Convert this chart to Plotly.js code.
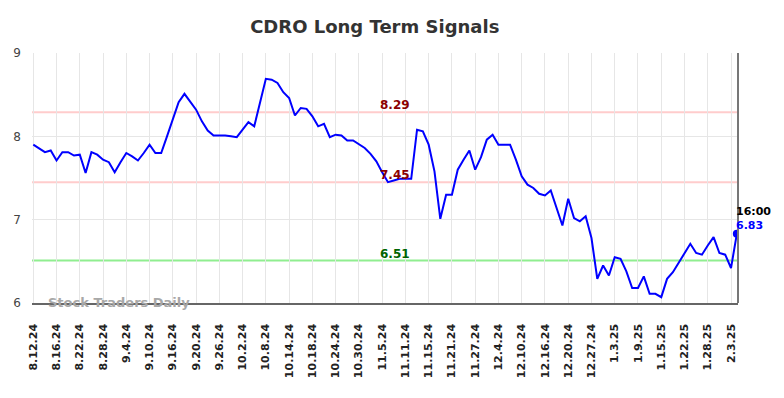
<!DOCTYPE html>
<html>
<head>
<meta charset="utf-8">
<script src="https://cdn.plot.ly/plotly-3.0.1.min.js"></script>
<style>html,body{margin:0;padding:0;background:#fff;}#chart{width:784px;height:398px;}</style>
</head>
<body>
<div id="chart"></div>
<script>
const dates = [
"8.12.24","8.13.24","8.14.24","8.15.24","8.16.24",
"8.19.24","8.20.24","8.21.24","8.22.24","8.23.24",
"8.26.24","8.27.24","8.28.24","8.29.24","8.30.24",
"9.3.24","9.4.24","9.5.24","9.6.24",
"9.9.24","9.10.24","9.11.24","9.12.24","9.13.24",
"9.16.24","9.17.24","9.18.24","9.19.24","9.20.24",
"9.23.24","9.24.24","9.25.24","9.26.24","9.27.24",
"9.30.24","10.1.24","10.2.24","10.3.24","10.4.24",
"10.7.24","10.8.24","10.9.24","10.10.24","10.11.24",
"10.14.24","10.15.24","10.16.24","10.17.24","10.18.24",
"10.21.24","10.22.24","10.23.24","10.24.24","10.25.24",
"10.28.24","10.29.24","10.30.24","10.31.24","11.1.24",
"11.4.24","11.5.24","11.6.24","11.7.24","11.8.24",
"11.11.24","11.12.24","11.13.24","11.14.24","11.15.24",
"11.18.24","11.19.24","11.20.24","11.21.24","11.22.24",
"11.25.24","11.26.24","11.27.24","11.29.24",
"12.2.24","12.3.24","12.4.24","12.5.24","12.6.24",
"12.9.24","12.10.24","12.11.24","12.12.24","12.13.24",
"12.16.24","12.17.24","12.18.24","12.19.24","12.20.24",
"12.23.24","12.24.24","12.26.24","12.27.24",
"12.30.24","12.31.24","1.2.25","1.3.25",
"1.6.25","1.7.25","1.8.25","1.9.25","1.10.25",
"1.13.25","1.14.25","1.15.25","1.16.25","1.17.25",
"1.21.25","1.22.25","1.23.25","1.24.25",
"1.27.25","1.28.25","1.29.25","1.30.25","1.31.25",
"2.3.25","2.4.25"
];
const prices = [
7.90,7.85,7.81,7.83,7.71,
7.81,7.81,7.77,7.78,7.56,
7.81,7.78,7.72,7.69,7.57,
7.69,7.80,7.76,7.71,
7.80,7.90,7.80,7.80,8.00,
8.20,8.41,8.51,8.42,8.32,
8.18,8.07,8.01,8.01,8.01,
8.00,7.99,8.08,8.17,8.12,
8.42,8.69,8.68,8.64,8.53,
8.46,8.25,8.34,8.33,8.24,
8.12,8.15,7.99,8.02,8.01,
7.95,7.95,7.91,7.86,7.79,
7.70,7.57,7.45,7.47,7.49,
7.49,7.49,8.08,8.06,7.90,
7.58,7.01,7.30,7.30,7.60,
7.72,7.83,7.60,7.75,
7.96,8.02,7.90,7.90,7.90,
7.72,7.52,7.42,7.38,7.31,
7.29,7.35,7.15,6.93,7.25,
7.02,6.98,7.04,6.78,
6.29,6.45,6.33,6.55,
6.53,6.38,6.18,6.18,6.32,
6.11,6.11,6.07,6.29,6.37,
6.48,6.59,6.71,6.60,
6.58,6.69,6.79,6.60,6.58,
6.42,6.83
];
const tickLabels = ["8.12.24","8.16.24","8.22.24","8.28.24","9.4.24","9.10.24","9.16.24","9.20.24","9.26.24","10.2.24","10.8.24","10.14.24","10.18.24","10.24.24","10.30.24","11.5.24","11.11.24","11.15.24","11.21.24","11.27.24","12.4.24","12.10.24","12.16.24","12.20.24","12.27.24","1.3.25","1.9.25","1.15.25","1.22.25","1.28.25","2.3.25"];
const upperLevel = 8.29;
const middleLevel = 7.45;
const lowerLevel = 6.51;
const lastTime = "16:00";

const lastDate = dates[dates.length - 1];
const lastPrice = prices[prices.length - 1];
const FONT = "DejaVu Sans";

const traces = [
  {x: dates, y: prices, type: 'scatter', mode: 'lines',
   line: {color: '#0000ff', width: 2}, hoverinfo: 'x+y'},
  {x: [lastDate], y: [lastPrice], type: 'scatter', mode: 'markers',
   marker: {color: '#0000ff', size: 8}, hoverinfo: 'x+y'}
];

function hline(v, color) {
  return {type: 'line', xref: 'paper', x0: 0, x1: 1, yref: 'y', y0: v, y1: v,
          line: {color: color, width: 2}, layer: 'below'};
}

const layout = {
  width: 784, height: 398,
  margin: {l: 32, r: 46, t: 53, b: 95},
  paper_bgcolor: '#ffffff', plot_bgcolor: '#ffffff',
  showlegend: false,
  font: {family: FONT, color: '#333333'},
  title: {text: 'CDRO Long Term Signals', font: {family: FONT, size: 18, color: '#333333', weight: 'bold'},
          x: 0.478, xref: 'container', xanchor: 'center', y: 0.932, yref: 'container', yanchor: 'middle'},
  xaxis: {type: 'category', range: [-0.22, 121.2], tickmode: 'array', tickvals: tickLabels, ticktext: tickLabels,
          tickangle: -90, tickfont: {family: FONT, size: 11, color: '#222222', weight: 'bold'},
          showgrid: true, gridcolor: '#e6e6e6', gridwidth: 1,
          showline: true, linecolor: '#666666', linewidth: 1.5,
          ticks: 'outside', ticklen: 0, ticklabelstandoff: 15, zeroline: false, fixedrange: true},
  yaxis: {range: [6, 9], tickvals: [6, 7, 8, 9], ticktext: ['6', '7', '8', '9'],
          tickfont: {family: FONT, size: 12, color: '#444444'},
          showgrid: true, gridcolor: '#e6e6e6', gridwidth: 1,
          showline: false, zeroline: false, ticks: '', ticklabelstandoff: 10, fixedrange: true},
  shapes: [
    hline(upperLevel, '#ffcccc'),
    hline(middleLevel, '#ffcccc'),
    hline(lowerLevel, '#90ee90'),
    {type: 'line', xref: 'paper', x0: 1, x1: 1, yref: 'paper', y0: 0, y1: 1,
     line: {color: '#777777', width: 2}}
  ],
  annotations: [
    {xref: 'paper', x: 0.514, yref: 'y', y: upperLevel, yanchor: 'bottom', xanchor: 'center', yshift: -2,
     text: upperLevel.toFixed(2), showarrow: false, font: {family: FONT, size: 12, color: '#8b0000', weight: 'bold'}},
    {xref: 'paper', x: 0.514, yref: 'y', y: middleLevel, yanchor: 'bottom', xanchor: 'center', yshift: -2,
     text: middleLevel.toFixed(2), showarrow: false, font: {family: FONT, size: 12, color: '#8b0000', weight: 'bold'}},
    {xref: 'paper', x: 0.514, yref: 'y', y: lowerLevel, yanchor: 'bottom', xanchor: 'center', yshift: -2,
     text: lowerLevel.toFixed(2), showarrow: false, font: {family: FONT, size: 12, color: '#006400', weight: 'bold'}},
    {xref: 'x', x: lastDate, yref: 'y', y: lastPrice, xanchor: 'left', yanchor: 'bottom', xshift: -3, yshift: 14,
     text: lastTime, showarrow: false, font: {family: FONT, size: 11, color: '#000000', weight: 'bold'}},
    {xref: 'x', x: lastDate, yref: 'y', y: lastPrice, xanchor: 'left', yanchor: 'bottom', xshift: -3, yshift: 0,
     text: lastPrice.toFixed(2), showarrow: false, font: {family: FONT, size: 11, color: '#0000ff', weight: 'bold'}},
    {xref: 'paper', x: 0.02, yref: 'paper', y: 0, xanchor: 'left', yanchor: 'middle', yshift: 1,
     text: 'Stock Traders Daily', showarrow: false, font: {family: FONT, size: 13, color: '#a8a8a8', weight: 'bold'}}
  ]
};

Plotly.newPlot('chart', traces, layout, {displayModeBar: false, staticPlot: true});
</script>
</body>
</html>
